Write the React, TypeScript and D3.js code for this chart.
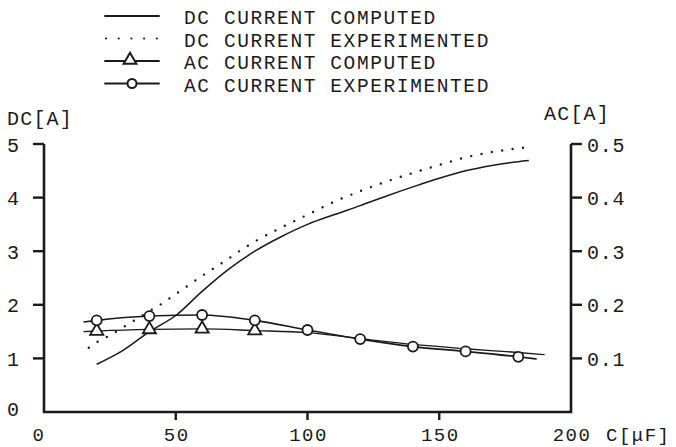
import * as d3 from "d3";

// capacitance C [uF] vs DC current [A] (left) and AC current [A] (right)
const dcCompC = [20, 30, 40, 50, 60, 70, 80, 90, 100, 110, 120, 130, 140, 150, 160, 170, 180, 184];
const dcCompA = [0.89, 1.15, 1.5, 1.8, 2.25, 2.66, 3.0, 3.27, 3.5, 3.68, 3.85, 4.03, 4.2, 4.36, 4.5, 4.6, 4.67, 4.69];

const dcExpC = [17, 20, 25, 30, 35, 40, 45, 50, 55, 60, 65, 70, 75, 80, 90, 100, 110, 120, 130, 140, 150, 160, 170, 180, 185];
const dcExpA = [1.2, 1.3, 1.43, 1.58, 1.73, 1.88, 2.03, 2.2, 2.37, 2.54, 2.7, 2.86, 3.03, 3.18, 3.44, 3.68, 3.92, 4.12, 4.3, 4.46, 4.61, 4.75, 4.85, 4.92, 4.95];

const acCompC = [15, 20, 40, 60, 80, 100, 120, 140, 160, 180, 190];
const acCompA = [0.15, 0.151, 0.154, 0.155, 0.152, 0.148, 0.137, 0.126, 0.118, 0.111, 0.107];
const acCompMarks = [20, 40, 60, 80];

const acExpC = [15, 20, 40, 60, 80, 100, 120, 140, 160, 180, 187];
const acExpA = [0.168, 0.171, 0.179, 0.181, 0.171, 0.153, 0.136, 0.122, 0.113, 0.103, 0.099];
const acExpMarks = [20, 40, 60, 80, 100, 120, 140, 160, 180];

const xTicks = [0, 50, 100, 150, 200];
const dcTicks = [0, 1, 2, 3, 4, 5];
const acTicks = [0.1, 0.2, 0.3, 0.4, 0.5];

const legendItems = [
  "DC CURRENT COMPUTED",
  "DC CURRENT EXPERIMENTED",
  "AC CURRENT COMPUTED",
  "AC CURRENT EXPERIMENTED",
];

const font = "'Liberation Mono', monospace";
const ink = "#1a1a1a";

export default function App() {
  const x = d3.scaleLinear().domain([0, 200]).range([44, 571]);
  const yDc = d3.scaleLinear().domain([0, 5]).range([412, 144]);
  const yAc = d3.scaleLinear().domain([0, 0.5]).range([412, 144]);

  const zip = (cs: number[], vs: number[]) => cs.map((c, i) => [c, vs[i]] as [number, number]);

  const dcLine = d3.line<[number, number]>()
    .x(d => x(d[0])).y(d => yDc(d[1])).curve(d3.curveMonotoneX);
  const acLine = d3.line<[number, number]>()
    .x(d => x(d[0])).y(d => yAc(d[1])).curve(d3.curveMonotoneX);

  const acComp = zip(acCompC, acCompA);
  const acExp = zip(acExpC, acExpA);
  const tri = d3.symbol(d3.symbolTriangle, 75)() as string;
  const triSmall = d3.symbol(d3.symbolTriangle, 70)() as string;

  const legendBase = [24, 46.5, 69, 91.5];

  return (
    <div style={{position: "absolute", left: 0, top: 0}}>
      <svg width={676} height={447} style={{display: "block", background: "#fff"}}>
        {/* legend */}
        {legendItems.map((t, i) => {
          const cy = legendBase[i] - 8;
          return (
            <g key={t}>
              <line x1={i === 1 ? 106 : 105} x2={159} y1={cy} y2={cy} stroke={ink}
                    strokeWidth={i === 1 ? 2.2 : 1.8}
                    strokeLinecap="round"
                    strokeDasharray={i === 1 ? "0 12.7" : undefined}/>
              {i === 2 && <path d={triSmall} transform={`translate(130,${cy - 1})`}
                                fill="#fff" stroke={ink} strokeWidth={2}/>}
              {i === 3 && <circle cx={132} cy={cy} r={4.5} fill="#fff" stroke={ink} strokeWidth={2}/>}
              <text x={184} y={legendBase[i]} fontFamily={font} fontSize={19.5}
                    letterSpacing={1.6} fill={ink}>{t}</text>
            </g>
          );
        })}

        <text x={7} y={125} fontFamily={font} fontSize={20} letterSpacing={1.2} fill={ink}>DC[A]</text>
        <text x={544} y={120} fontFamily={font} fontSize={20} letterSpacing={1.2} fill={ink}>AC[A]</text>

        {/* axes */}
        <path d={`M${x(0)},${yDc(5)}V${yDc(0)}H${x(200)}V${yAc(0.5)}`} fill="none"
              stroke={ink} strokeWidth={2.6}/>
        {dcTicks.filter(v => v > 0).map(v => (
          <line key={v} x1={x(0) - 11} x2={x(0)} y1={yDc(v)} y2={yDc(v)} stroke={ink} strokeWidth={2.4}/>
        ))}
        {acTicks.map(v => (
          <line key={v} x1={x(200)} x2={x(200) + 11} y1={yAc(v)} y2={yAc(v)} stroke={ink} strokeWidth={2.4}/>
        ))}
        {xTicks.filter(v => v > 0 && v < 200).map(v => (
          <line key={v} x1={x(v)} x2={x(v)} y1={yDc(0)} y2={yDc(0) + 8} stroke={ink} strokeWidth={2.4}/>
        ))}

        {dcTicks.map(v => (
          <text key={v} x={13} y={yDc(v) + (v === 0 ? -2 : 2)} textAnchor="middle"
                dominantBaseline="central" fontFamily={font} fontSize={20} fill={ink}>{v}</text>
        ))}
        {acTicks.map(v => (
          <text key={v} x={587} y={yAc(v) + 2} dominantBaseline="central"
                fontFamily={font} fontSize={20} letterSpacing={0.8} fill={ink}>{v.toFixed(1)}</text>
        ))}
        {xTicks.map(v => (
          <text key={v} x={v === 0 ? x(v) - 5 : x(v) + 1} y={440.5} textAnchor="middle"
                fontFamily={font} fontSize={19} letterSpacing={1.5} fill={ink}>{v}</text>
        ))}
        <text x={606} y={440.5} fontFamily={font} fontSize={19} letterSpacing={1.5} fill={ink}>C[μF]</text>

        {/* DC curves */}
        <path d={dcLine(zip(dcCompC, dcCompA)) as string} fill="none" stroke={ink} strokeWidth={1.5}/>
        <path d={dcLine(zip(dcExpC, dcExpA)) as string} fill="none" stroke={ink} strokeWidth={2.4}
              strokeLinecap="round" strokeDasharray="0 10.5"/>

        {/* AC curves */}
        <path d={acLine(acComp) as string} fill="none" stroke={ink} strokeWidth={1.3}/>
        <path d={acLine(acExp) as string} fill="none" stroke={ink} strokeWidth={1.6}/>
        {acComp.filter(d => acCompMarks.includes(d[0])).map(d => (
          <path key={d[0]} d={tri} transform={`translate(${x(d[0])},${yAc(d[1])})`}
                fill="#fff" stroke={ink} strokeWidth={1.8}/>
        ))}
        {acExp.filter(d => acExpMarks.includes(d[0])).map(d => (
          <circle key={d[0]} cx={x(d[0])} cy={yAc(d[1])} r={5} fill="#fff" stroke={ink} strokeWidth={1.8}/>
        ))}
      </svg>
    </div>
  );
}
